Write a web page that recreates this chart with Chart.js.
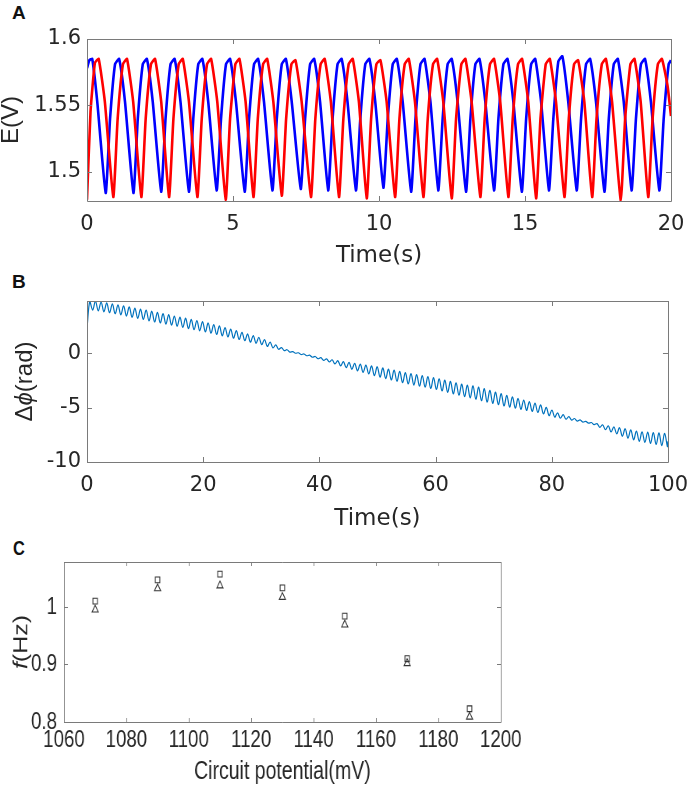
<!DOCTYPE html>
<html><head><meta charset="utf-8">
<script src="https://cdn.jsdelivr.net/npm/chart.js@4.4.1/dist/chart.umd.min.js"></script>
<style>
html,body{margin:0;padding:0;background:#fff;width:699px;height:797px;overflow:hidden;position:relative;}
canvas{position:absolute;left:0;}
.lbl{position:absolute;font-family:"Liberation Sans",Arial,sans-serif;font-weight:bold;color:#111;line-height:1;}
</style></head><body>
<div class="lbl" style="left:12px;top:3px;font-size:19px">A</div>
<div class="lbl" style="left:12px;top:272px;font-size:19px">B</div>
<div class="lbl" style="left:13px;top:537px;font-size:21px;transform:scaleX(0.78);transform-origin:left top">C</div>
<canvas id="cA" width="699" height="270" style="top:0px"></canvas>
<canvas id="cB" width="699" height="265" style="top:270px"></canvas>
<canvas id="cC" width="896" height="262" style="top:535px;transform:scaleX(0.78);transform-origin:left top"></canvas>
<script>
// ---------- Panel A: electrode potentials E(V) vs time (s) ----------
const blueTime = [0,0.08,0.18,0.35,0.64,0.79,0.96,1.10,1.30,1.59,1.74,1.91,2.05,2.25,2.54,2.69,2.86,3.00,3.20,3.49,3.64,3.81,3.95,4.15,4.44,4.59,4.76,4.90,5.10,5.40,5.55,5.72,5.86,6.06,6.35,6.50,6.67,6.81,7.01,7.32,7.47,7.64,7.78,7.98,8.26,8.41,8.58,8.72,8.92,9.21,9.36,9.53,9.67,9.87,10.15,10.30,10.47,10.61,10.81,11.10,11.25,11.42,11.56,11.76,12.03,12.18,12.35,12.49,12.69,12.98,13.13,13.30,13.44,13.64,13.94,14.09,14.26,14.40,14.60,14.89,15.04,15.21,15.35,15.55,15.82,15.97,16.14,16.28,16.48,16.77,16.92,17.09,17.23,17.43,17.72,17.87,18.04,18.18,18.38,18.65,18.80,18.97,19.11,19.31,19.60,19.75,19.92,20.00];
const blueE = [1.578,1.584,1.585,1.553,1.484,1.540,1.581,1.585,1.553,1.484,1.540,1.581,1.585,1.553,1.485,1.540,1.581,1.585,1.553,1.485,1.540,1.581,1.585,1.553,1.486,1.540,1.581,1.585,1.553,1.485,1.540,1.581,1.585,1.553,1.486,1.540,1.581,1.585,1.553,1.487,1.540,1.581,1.585,1.553,1.486,1.540,1.581,1.585,1.553,1.486,1.540,1.581,1.585,1.553,1.488,1.540,1.581,1.585,1.553,1.485,1.540,1.581,1.585,1.553,1.486,1.540,1.581,1.585,1.553,1.485,1.540,1.581,1.585,1.553,1.486,1.540,1.581,1.585,1.553,1.485,1.540,1.581,1.585,1.553,1.486,1.540,1.583,1.587,1.553,1.486,1.540,1.581,1.585,1.553,1.485,1.540,1.581,1.585,1.553,1.486,1.540,1.581,1.585,1.553,1.486,1.540,1.581,1.584];
const redTime = [0,0.12,0.27,0.40,0.61,0.90,1.05,1.23,1.37,1.58,1.86,2.01,2.19,2.33,2.54,2.81,2.96,3.14,3.28,3.49,3.78,3.93,4.11,4.25,4.46,4.75,4.90,5.08,5.22,5.43,5.70,5.85,6.03,6.17,6.38,6.67,6.82,7.00,7.14,7.35,7.67,7.82,8.00,8.14,8.35,8.63,8.78,8.96,9.10,9.31,9.58,9.73,9.91,10.05,10.26,10.55,10.70,10.88,11.02,11.23,11.52,11.67,11.85,11.99,12.20,12.49,12.64,12.82,12.96,13.17,13.47,13.62,13.80,13.94,14.15,14.43,14.58,14.76,14.90,15.11,15.38,15.53,15.71,15.85,16.06,16.35,16.50,16.68,16.82,17.03,17.30,17.45,17.63,17.77,17.98,18.28,18.43,18.61,18.75,18.96,19.22,19.37,19.55,19.69,19.88,20.00];
const redE = [1.479,1.545,1.582,1.585,1.553,1.481,1.540,1.581,1.585,1.553,1.481,1.540,1.581,1.585,1.553,1.481,1.540,1.581,1.585,1.553,1.481,1.540,1.581,1.585,1.553,1.479,1.540,1.581,1.585,1.553,1.481,1.540,1.581,1.585,1.553,1.482,1.540,1.581,1.584,1.553,1.481,1.540,1.581,1.585,1.553,1.481,1.540,1.581,1.585,1.553,1.480,1.540,1.581,1.584,1.553,1.481,1.540,1.581,1.585,1.553,1.481,1.540,1.581,1.585,1.553,1.480,1.540,1.581,1.585,1.553,1.481,1.540,1.581,1.585,1.553,1.481,1.540,1.581,1.585,1.553,1.480,1.540,1.581,1.585,1.553,1.481,1.540,1.581,1.584,1.553,1.481,1.540,1.581,1.585,1.553,1.478,1.540,1.581,1.585,1.553,1.481,1.540,1.581,1.585,1.565,1.542];
const aXTicks = [0,5,10,15,20];
const aXLabels = ['0','5','10','15','20'];
const aYTicks = [1.5,1.55,1.6];
const aYLabels = ['1.5','1.55','1.6'];

// ---------- Panel B: phase difference (rad) vs time (s) ----------
const phaseStart = 2.3;          // value at t = 0
const phasePeriod = 0.97;        // oscillation period (s)
const phasePeaks = [4.80,4.79,4.71,4.62,4.54,4.45,4.36,4.26,4.15,4.05,3.97,3.86,3.75,3.64,3.54,3.42,3.32,3.22,3.11,3.01,2.91,2.78,2.64,2.51,2.36,2.22,2.07,1.92,1.77,1.61,1.47,1.26,1.02,0.76,0.52,0.32,0.15,0.04,-0.07,-0.18,-0.30,-0.41,-0.52,-0.60,-0.68,-0.77,-0.84,-0.92,-1.01,-1.09,-1.16,-1.24,-1.35,-1.46,-1.56,-1.67,-1.78,-1.88,-1.96,-2.06,-2.15,-2.25,-2.35,-2.48,-2.59,-2.72,-2.84,-2.94,-3.00,-3.12,-3.26,-3.42,-3.57,-3.72,-3.87,-4.01,-4.16,-4.30,-4.45,-4.59,-4.75,-4.98,-5.22,-5.48,-5.65,-5.83,-6.00,-6.13,-6.26,-6.37,-6.47,-6.58,-6.67,-6.76,-6.85,-6.94,-7.04,-7.15,-7.22,-7.26,-7.29,-7.33,-7.37];
const phaseTroughs = [3.97,3.89,3.80,3.72,3.63,3.53,3.41,3.30,3.20,3.10,2.97,2.87,2.78,2.67,2.57,2.47,2.37,2.26,2.16,2.06,1.96,1.84,1.72,1.60,1.50,1.38,1.26,1.15,1.02,0.91,0.78,0.63,0.49,0.36,0.24,0.10,0.00,-0.12,-0.23,-0.37,-0.51,-0.66,-0.80,-0.98,-1.16,-1.33,-1.48,-1.62,-1.76,-1.91,-2.06,-2.20,-2.33,-2.46,-2.58,-2.71,-2.83,-2.93,-3.03,-3.13,-3.24,-3.33,-3.47,-3.60,-3.74,-3.86,-4.00,-4.11,-4.23,-4.37,-4.49,-4.61,-4.73,-4.85,-4.95,-5.05,-5.16,-5.26,-5.35,-5.45,-5.58,-5.74,-5.88,-5.98,-6.07,-6.15,-6.24,-6.33,-6.43,-6.57,-6.81,-7.03,-7.24,-7.42,-7.64,-7.81,-7.96,-8.10,-8.20,-8.29,-8.39,-8.50,-8.59];
const phaseEnd = -8.1;           // value at t = 100
const bXTicks = [0,20,40,60,80,100];
const bXLabels = ['0','20','40','60','80','100'];
const bYTicks = [-10,-5,0];
const bYLabels = ['-10','-5','0'];

// ---------- Panel C: frequency vs circuit potential ----------
const potentials = [1070,1090,1110,1130,1150,1170,1190];
const freqSquares = [1.010,1.047,1.057,1.033,0.984,0.910,0.823];
const freqTriangles = [0.995,1.032,1.037,1.017,0.969,0.902,0.809];
const cXTicks = [1060,1080,1100,1120,1140,1160,1180,1200];
const cXLabels = ['1060','1080','1100','1120','1140','1160','1180','1200'];
const cYTicks = [0.8,0.9,1];
const cYLabels = ['0.8','0.9','1'];

// ---------- styling ----------
const TEXT = '#262626';
const AXIS = '#7a7a7a';
const WIDE = '"DejaVu Sans", sans-serif';
const REG = '"Liberation Sans", Arial, sans-serif';

const matlabBox = {
  id: 'matlabBox',
  afterDraw(chart, args, opts) {
    const {ctx, chartArea: a, scales} = chart;
    ctx.save();
    ctx.strokeStyle = AXIS;
    ctx.lineWidth = 1;
    ctx.beginPath();
    scales.x.ticks.forEach(t => {
      const p = Math.round(scales.x.getPixelForValue(t.value)) + 0.5;
      ctx.moveTo(p, a.bottom); ctx.lineTo(p, a.bottom - opts.tickV);
      ctx.moveTo(p, a.top); ctx.lineTo(p, a.top + opts.tickV);
    });
    scales.y.ticks.forEach(t => {
      const p = Math.round(scales.y.getPixelForValue(t.value)) + 0.5;
      ctx.moveTo(a.left, p); ctx.lineTo(a.left + opts.tickH, p);
      ctx.moveTo(a.right, p); ctx.lineTo(a.right - opts.tickH, p);
    });
    ctx.rect(Math.round(a.left) + 0.5, Math.round(a.top) + 0.5,
             Math.round(a.right - a.left), Math.round(a.bottom - a.top));
    ctx.stroke();
    // rotated y title (mixed styles)
    const yt = opts.yTitle;
    ctx.fillStyle = TEXT;
    ctx.textBaseline = 'middle';
    ctx.textAlign = 'left';
    const fonts = yt.parts.map(p => (p.italic ? 'italic ' : '') + yt.size + 'px ' + yt.family);
    let w = 0;
    yt.parts.forEach((p, i) => { ctx.font = fonts[i]; w += ctx.measureText(p.text).width; });
    ctx.translate(yt.x, (a.top + a.bottom) / 2);
    ctx.rotate(-Math.PI / 2);
    let x = -w / 2;
    yt.parts.forEach((p, i) => { ctx.font = fonts[i]; ctx.fillText(p.text, x, 0); x += ctx.measureText(p.text).width; });
    ctx.restore();
  }
};

function makeChart(id, datasets, o) {
  return new Chart(document.getElementById(id), {
    type: 'line',
    data: { datasets },
    options: {
      responsive: false, animation: false, events: [],
      layout: { padding: { left: 0, top: o.top, right: o.right, bottom: 0 } },
      plugins: { legend: { display: false }, tooltip: { enabled: false },
                 matlabBox: { tickV: o.tickV, tickH: o.tickH, yTitle: o.yTitle } },
      scales: {
        x: {
          type: 'linear', min: o.xMin, max: o.xMax,
          afterFit: s => { s.height = o.xAxisH; },
          afterBuildTicks: s => { s.ticks = o.xTicks.map(v => ({ value: v })); },
          grid: { display: false, drawTicks: false }, border: { display: false },
          ticks: { font: { family: o.tickFamily, size: o.tickSize }, color: TEXT, padding: o.xPad,
                   maxRotation: 0, autoSkip: false, callback: (v, i) => o.xLabels[i] },
          title: { display: true, text: o.xTitle, color: TEXT,
                   font: { family: o.titleFamily, size: o.titleSize, lineHeight: 1.2 },
                   padding: { top: 0, bottom: o.xTitlePad } }
        },
        y: {
          type: 'linear', min: o.yMin, max: o.yMax,
          afterFit: s => { s.width = o.yAxisW; },
          afterBuildTicks: s => { s.ticks = o.yTicks.map(v => ({ value: v })); },
          grid: { display: false, drawTicks: false }, border: { display: false },
          ticks: { font: { family: o.tickFamily, size: o.tickSize }, color: TEXT, padding: o.yPad,
                   autoSkip: false, callback: (v, i) => o.yLabels[i] }
        }
      }
    },
    plugins: [matlabBox]
  });
}

// Panel A
makeChart('cA', [
  { data: redTime.map((t, i) => ({ x: t, y: redE[i] })), borderColor: '#ff0000', borderWidth: 2.6,
    pointRadius: 0, tension: 0.15, fill: false },
  { data: blueTime.map((t, i) => ({ x: t, y: blueE[i] })), borderColor: '#0000ff', borderWidth: 2.6,
    pointRadius: 0, tension: 0.15, fill: false }
], { top: 39, right: 28, xAxisH: 69, yAxisW: 87, xMin: 0, xMax: 20, yMin: 1.478, yMax: 1.6,
     xTicks: aXTicks, xLabels: aXLabels, yTicks: aYTicks, yLabels: aYLabels,
     tickFamily: WIDE, tickSize: 21, xPad: 11, yPad: 6, tickV: 5, tickH: 5,
     xTitle: 'Time(s)', titleFamily: WIDE, titleSize: 23, xTitlePad: 0,
     yTitle: { x: 11, size: 24, family: REG, parts: [{ text: 'E(V)' }] } });

// Panel B
const phasePts = [{ x: 0, y: phaseStart }];
phasePeaks.forEach((v, k) => {
  phasePts.push({ x: phasePeriod * k + phasePeriod / 2, y: v });
  phasePts.push({ x: phasePeriod * (k + 1), y: phaseTroughs[k] });
});
phasePts.push({ x: 100, y: phaseEnd });
makeChart('cB', [
  { data: phasePts, borderColor: '#0072bd', borderWidth: 1.2, pointRadius: 0, tension: 0.35, fill: false }
], { top: 31, right: 28, xAxisH: 73, yAxisW: 87, xMin: 0, xMax: 100, yMin: -10, yMax: 4.8,
     xTicks: bXTicks, xLabels: bXLabels, yTicks: bYTicks, yLabels: bYLabels,
     tickFamily: WIDE, tickSize: 21, xPad: 11, yPad: 6, tickV: 5, tickH: 5,
     xTitle: 'Time(s)', titleFamily: WIDE, titleSize: 23, xTitlePad: 2,
     yTitle: { x: 25, size: 24, family: REG, parts: [{ text: 'Δ' }, { text: 'ϕ', italic: true }, { text: '(rad)' }] } });

// Panel C (drawn in a wider canvas that is displayed horizontally condensed)
makeChart('cC', [
  { data: potentials.map((p, i) => ({ x: p, y: freqSquares[i] })), showLine: false,
    pointStyle: 'rect', pointRadius: 4.1, borderColor: '#333', borderWidth: 1.1, backgroundColor: 'rgba(0,0,0,0)' },
  { data: potentials.map((p, i) => ({ x: p, y: freqTriangles[i] })), showLine: false,
    pointStyle: 'triangle', pointRadius: 4.6, borderColor: '#333', borderWidth: 1.1, backgroundColor: 'rgba(0,0,0,0)' }
], { top: 27, right: 254, xAxisH: 75, yAxisW: 82, xMin: 1060, xMax: 1200, yMin: 0.8, yMax: 1.078,
     xTicks: cXTicks, xLabels: cXLabels, yTicks: cYTicks, yLabels: cYLabels,
     tickFamily: REG, tickSize: 24, xPad: 4, yPad: 9, tickV: 4, tickH: 5,
     xTitle: 'Circuit potential(mV)', titleFamily: REG, titleSize: 25, xTitlePad: 10,
     yTitle: { x: 28, size: 25, family: REG, parts: [{ text: 'f', italic: true }, { text: '(Hz)' }] } });
</script>
</body></html>
